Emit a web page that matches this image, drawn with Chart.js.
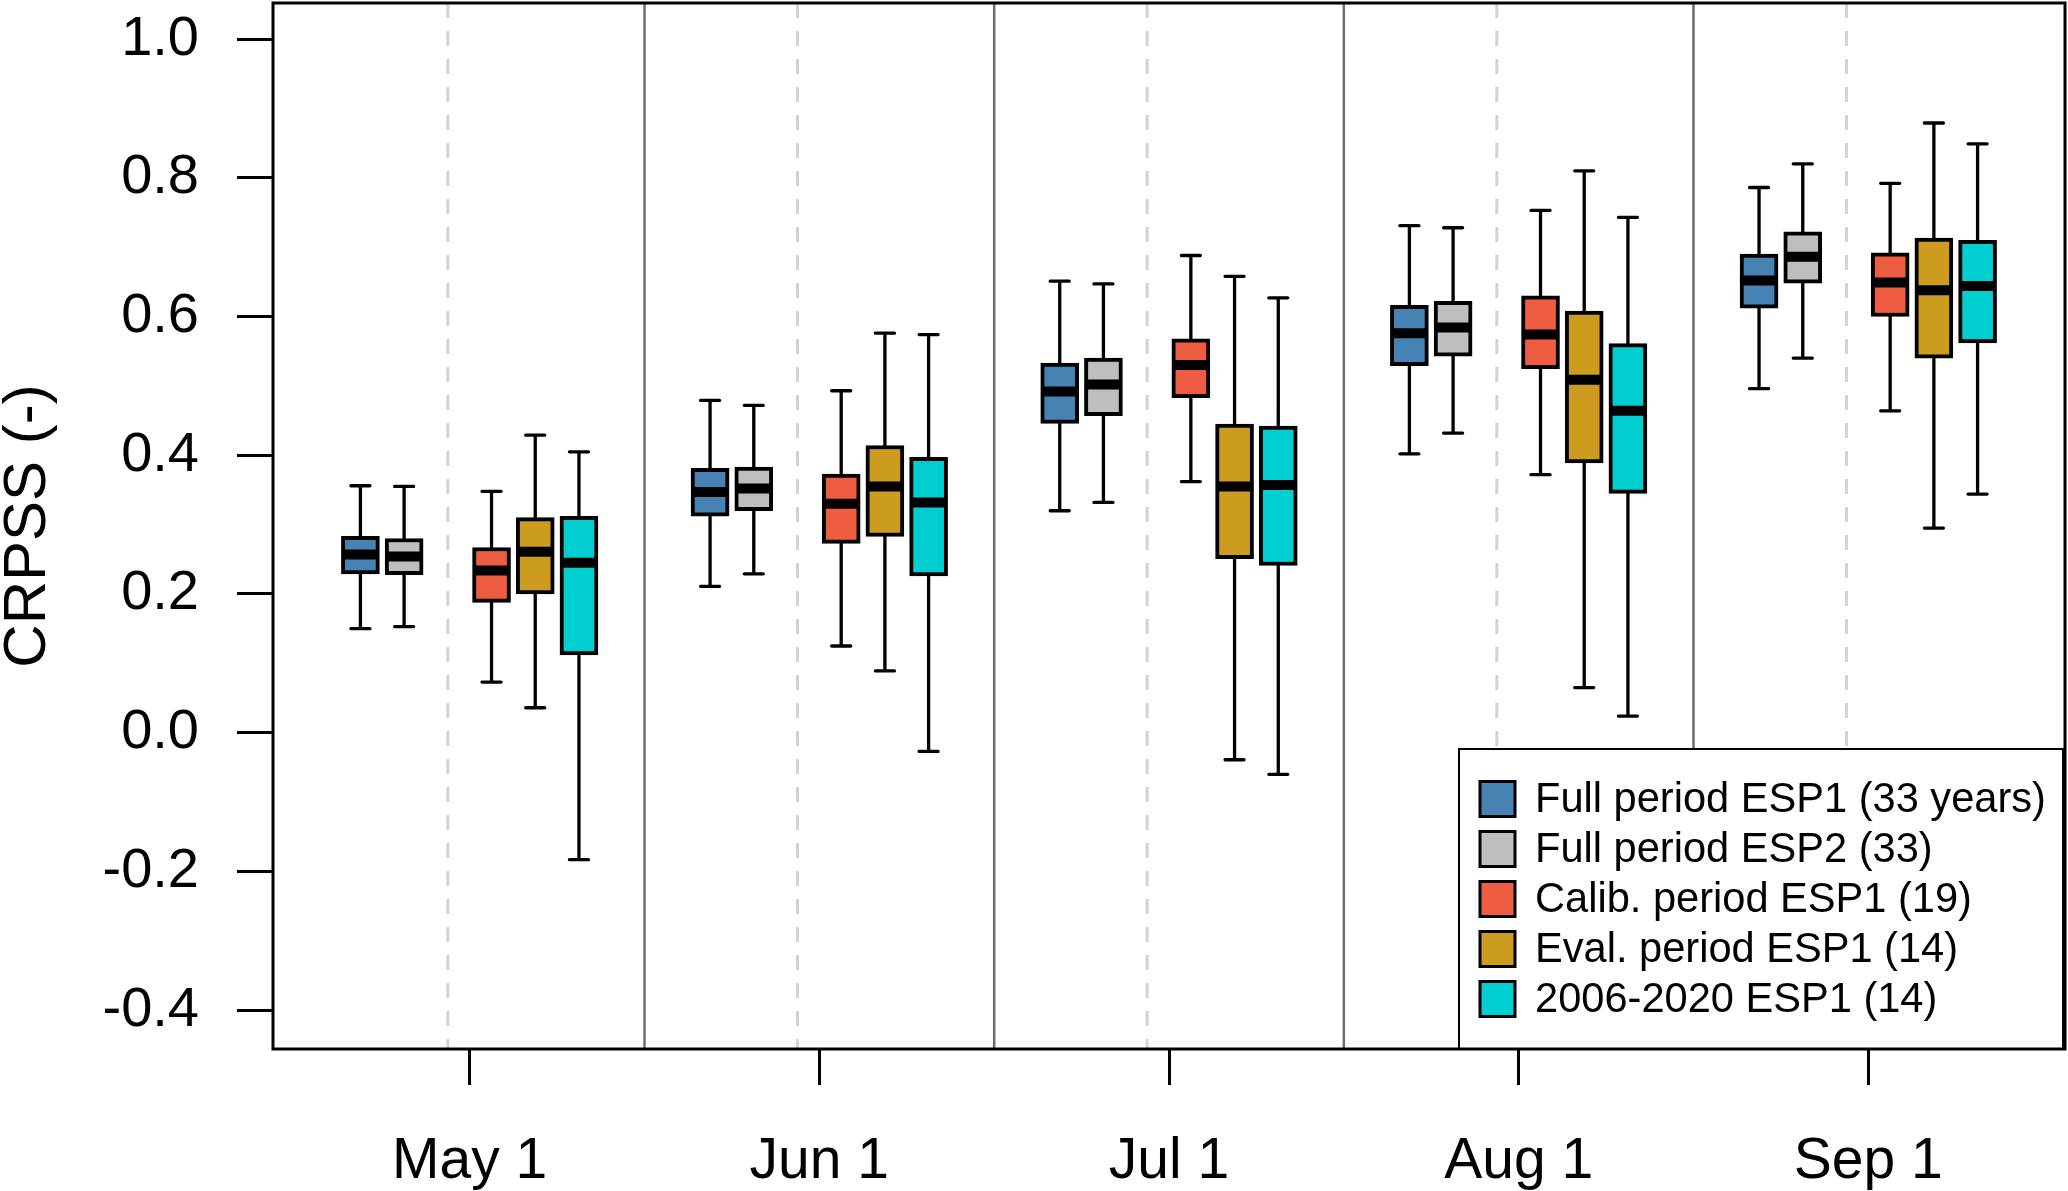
<!DOCTYPE html>
<html>
<head>
<meta charset="utf-8">
<script src="https://cdn.jsdelivr.net/npm/chart.js@4.4.1/dist/chart.umd.min.js"></script>
<style>
  html, body { margin: 0; padding: 0; background: #fff; }
  #wrap { width: 2068px; height: 1191px; position: relative; }
</style>
</head>
<body>
<div id="wrap"><canvas id="chart"></canvas></div>
<script>
const months = ["May 1", "Jun 1", "Jul 1", "Aug 1", "Sep 1"];
const monthCenters = [0, 8, 16, 24, 32];
const seriesNames = [
  "Full period ESP1 (33 years)",
  "Full period ESP2 (33)",
  "Calib. period ESP1 (19)",
  "Eval. period ESP1 (14)",
  "2006-2020 ESP1 (14)"
];
const seriesColors = ["#4682B4", "#BEBEBE", "#EE5C42", "#CD9B1D", "#00CED1"];
const seriesOffsets = [-2.5, -1.5, 0.5, 1.5, 2.5];
const yTicks = [-0.4, -0.2, 0.0, 0.2, 0.4, 0.6, 0.8, 1.0];

// [whisker low, q1, median, q3, whisker high] for each start date
const fullEsp1 = [
  [0.150, 0.229, 0.257, 0.283, 0.356],
  [0.211, 0.312, 0.347, 0.381, 0.479],
  [0.320, 0.446, 0.492, 0.533, 0.651],
  [0.402, 0.529, 0.576, 0.616, 0.731],
  [0.496, 0.612, 0.652, 0.690, 0.786]
];
const fullEsp2 = [
  [0.153, 0.228, 0.254, 0.280, 0.355],
  [0.229, 0.320, 0.352, 0.383, 0.472],
  [0.332, 0.457, 0.502, 0.540, 0.647],
  [0.432, 0.543, 0.584, 0.622, 0.728],
  [0.540, 0.648, 0.686, 0.722, 0.820]
];
const calibEsp1 = [
  [0.073, 0.188, 0.234, 0.267, 0.348],
  [0.125, 0.273, 0.330, 0.373, 0.493],
  [0.362, 0.483, 0.530, 0.568, 0.688],
  [0.372, 0.525, 0.574, 0.630, 0.753],
  [0.464, 0.600, 0.649, 0.692, 0.792]
];
const evalEsp1 = [
  [0.036, 0.200, 0.261, 0.310, 0.429],
  [0.089, 0.283, 0.355, 0.414, 0.576],
  [-0.039, 0.251, 0.355, 0.445, 0.658],
  [0.065, 0.389, 0.509, 0.608, 0.810],
  [0.295, 0.540, 0.638, 0.713, 0.879]
];
const recentEsp1 = [
  [-0.183, 0.112, 0.245, 0.312, 0.405],
  [-0.027, 0.226, 0.332, 0.397, 0.574],
  [-0.060, 0.241, 0.357, 0.442, 0.627],
  [0.024, 0.345, 0.464, 0.561, 0.743],
  [0.344, 0.562, 0.644, 0.710, 0.849]
];
const seriesStats = [fullEsp1, fullEsp2, calibEsp1, evalEsp1, recentEsp1];

const FONT = "'Liberation Sans', Arial, Helvetica, sans-serif";
const BOX_W = 38;

const datasets = seriesStats.map((stats, s) => ({
  label: seriesNames[s],
  data: stats.map((st, i) => ({ x: monthCenters[i] + seriesOffsets[s], y: [st[1], st[3]] })),
  backgroundColor: seriesColors[s],
  borderColor: "#000",
  borderWidth: 4,
  borderSkipped: false,
  barThickness: BOX_W,
  grouped: false
}));

const boxParts = {
  id: "boxParts",
  beforeDatasetsDraw(chart) {
    const { ctx, chartArea: a, scales: { x, y } } = chart;
    ctx.save();

    // dashed split between full-period and sub-period boxes
    ctx.strokeStyle = "#d3d3d3";
    ctx.lineWidth = 3;
    ctx.setLineDash([15, 13]);
    monthCenters.forEach((c) => {
      const px = x.getPixelForValue(c - 0.5);
      ctx.beginPath();
      ctx.moveTo(px, a.top);
      ctx.lineTo(px, a.bottom);
      ctx.stroke();
    });
    ctx.setLineDash([]);

    // solid separators between start dates
    ctx.strokeStyle = "#6e6e6e";
    ctx.lineWidth = 2.5;
    monthCenters.slice(0, -1).forEach((c) => {
      const px = x.getPixelForValue(c + 4);
      ctx.beginPath();
      ctx.moveTo(px, a.top);
      ctx.lineTo(px, a.bottom);
      ctx.stroke();
    });

    // whiskers and staples
    ctx.strokeStyle = "#000";
    ctx.lineWidth = 3.3;
    ctx.lineCap = "round";
    seriesStats.forEach((stats, s) => {
      stats.forEach((st, i) => {
        const px = x.getPixelForValue(monthCenters[i] + seriesOffsets[s]);
        const yLo = y.getPixelForValue(st[0]);
        const yQ1 = y.getPixelForValue(st[1]);
        const yQ3 = y.getPixelForValue(st[3]);
        const yHi = y.getPixelForValue(st[4]);
        ctx.beginPath();
        ctx.moveTo(px, yLo); ctx.lineTo(px, yQ1);
        ctx.moveTo(px, yQ3); ctx.lineTo(px, yHi);
        ctx.moveTo(px - 9.5, yLo); ctx.lineTo(px + 9.5, yLo);
        ctx.moveTo(px - 9.5, yHi); ctx.lineTo(px + 9.5, yHi);
        ctx.stroke();
      });
    });
    ctx.restore();
  },
  afterDatasetsDraw(chart) {
    const { ctx, chartArea: a, scales: { x, y } } = chart;
    ctx.save();

    // medians
    ctx.strokeStyle = "#000";
    ctx.lineWidth = 10;
    ctx.lineCap = "butt";
    seriesStats.forEach((stats, s) => {
      stats.forEach((st, i) => {
        const px = x.getPixelForValue(monthCenters[i] + seriesOffsets[s]);
        const py = y.getPixelForValue(st[2]);
        ctx.beginPath();
        ctx.moveTo(px - BOX_W / 2 + 1, py);
        ctx.lineTo(px + BOX_W / 2 - 1, py);
        ctx.stroke();
      });
    });

    // legend in the lower right corner
    const lw = 604, lh = 300;
    const lx = a.right - 2 - lw, ly = a.bottom - lh;
    ctx.fillStyle = "#fff";
    ctx.fillRect(lx, ly, lw, lh);
    ctx.strokeStyle = "#000";
    ctx.lineWidth = 2;
    ctx.strokeRect(lx, ly, lw, lh);
    ctx.font = "41.6px " + FONT;
    ctx.textBaseline = "middle";
    ctx.textAlign = "left";
    seriesNames.forEach((name, k) => {
      const ry = ly + 50 + k * 50;
      ctx.fillStyle = seriesColors[k];
      ctx.fillRect(lx + 21, ry - 17.5, 35, 35);
      ctx.lineWidth = 3;
      ctx.strokeRect(lx + 21, ry - 17.5, 35, 35);
      ctx.fillStyle = "#000";
      ctx.fillText(name, lx + 76, ry + 2);
    });

    // plot frame
    ctx.lineWidth = 3;
    ctx.strokeStyle = "#000";
    ctx.strokeRect(a.left, a.top, a.right - a.left, a.bottom - a.top);
    ctx.restore();
  }
};

new Chart(document.getElementById("chart"), {
  type: "bar",
  data: { datasets },
  plugins: [boxParts],
  options: {
    responsive: true,
    maintainAspectRatio: false,
    animation: false,
    devicePixelRatio: 1,
    layout: { padding: { left: 0, right: 3, top: 3, bottom: 0 } },
    plugins: {
      legend: { display: false },
      tooltip: { enabled: false }
    },
    scales: {
      x: {
        type: "linear",
        min: -4.5,
        max: 36.5,
        offset: false,
        afterBuildTicks: (scale) => {
          scale.ticks = monthCenters.map((v) => ({ value: v }));
        },
        afterFit: (scale) => {
          scale.height = 142;
          scale.paddingLeft = 0;
          scale.paddingRight = 0;
        },
        ticks: {
          color: "#000",
          font: { family: FONT, size: 57 },
          padding: 43,
          maxRotation: 0,
          autoSkip: false,
          callback: (v, i) => months[i]
        },
        grid: {
          display: true,
          offset: false,
          drawOnChartArea: false,
          drawTicks: true,
          tickLength: 36,
          tickWidth: 3,
          tickColor: "#000"
        },
        border: { display: false }
      },
      y: {
        type: "linear",
        min: -0.456,
        max: 1.052,
        afterBuildTicks: (scale) => {
          scale.ticks = yTicks.map((v) => ({ value: v }));
        },
        afterFit: (scale) => {
          scale.width = 273;
          scale.paddingTop = 0;
          scale.paddingBottom = 0;
        },
        ticks: {
          color: "#000",
          font: { family: FONT, size: 56 },
          padding: 38,
          callback: (v) => (Math.abs(v) < 1e-9 ? 0 : v).toFixed(1)
        },
        grid: {
          display: true,
          offset: false,
          drawOnChartArea: false,
          drawTicks: true,
          tickLength: 36,
          tickWidth: 3,
          tickColor: "#000"
        },
        border: { display: false },
        title: {
          display: true,
          text: "CRPSS (-)",
          color: "#000",
          font: { family: FONT, size: 60, lineHeight: 0.95 },
          padding: 0
        }
      }
    }
  }
});
</script>
</body>
</html>
